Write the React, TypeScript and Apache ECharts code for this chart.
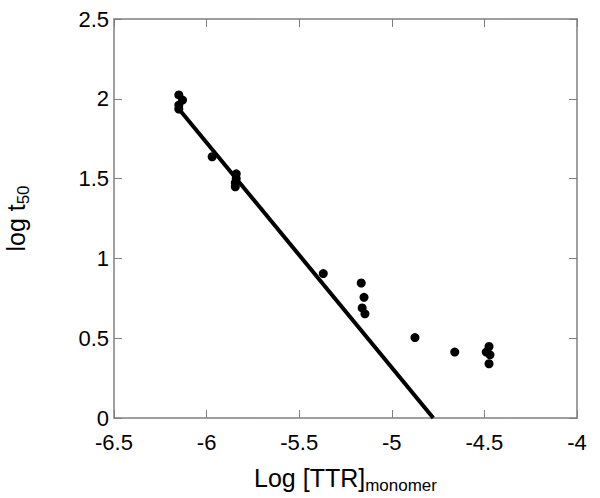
import React, { useEffect, useRef } from "react";
import * as echarts from "echarts";

// Measured points: log [TTR]monomer vs log t50
const pointsX = [-6.15, -6.13, -6.15, -6.15, -5.97, -5.84, -5.84, -5.845, -5.845, -5.37, -5.165, -5.15, -5.16, -5.145, -4.875, -4.66, -4.475, -4.49, -4.47, -4.475];
const pointsY = [2.024, 1.992, 1.961, 1.936, 1.637, 1.53, 1.50, 1.474, 1.449, 0.905, 0.846, 0.756, 0.69, 0.653, 0.504, 0.413, 0.448, 0.413, 0.396, 0.34];

// Fitted line end points
const fitX = [-6.154, -4.776];
const fitY = [1.943, 0];

const xTicks = [-6.5, -6, -5.5, -5, -4.5, -4];
const yTicks = [0, 0.5, 1, 1.5, 2, 2.5];

const FONT = "'Liberation Sans', Arial, sans-serif";
const AXIS_GRAY = "#7f7f7f";

export default function App() {
  const ref = useRef<HTMLDivElement>(null);
  useEffect(() => {
    if (!ref.current) return;
    const chart = echarts.init(ref.current, null, { renderer: "svg" });
    const axisCommon = {
      axisLine: { show: true, onZero: false, lineStyle: { color: AXIS_GRAY, width: 1.5 } },
      axisTick: { show: true, inside: true, length: 8, lineStyle: { color: AXIS_GRAY, width: 1 } },
      splitLine: { show: false },
    };
    const xMin = xTicks[0];
    const xMax = xTicks[xTicks.length - 1];
    const yMin = yTicks[0];
    const yMax = yTicks[yTicks.length - 1];
    chart.setOption({
      animation: false,
      backgroundColor: "#ffffff",
      grid: {
        left: 114,
        top: 19,
        right: 23,
        bottom: 80,
        containLabel: false,
        outerBoundsMode: "none",
      },
      xAxis: [
        {
          type: "value",
          min: xMin,
          max: xMax,
          interval: 0.5,
          position: "bottom",
          ...axisCommon,
          axisLabel: {
            color: "#000",
            fontFamily: FONT,
            fontSize: 22,
            margin: 13,
            formatter: (v: number) => String(v),
          },
          name: "{a|Log [TTR]}{b|monomer}",
          nameLocation: "middle",
          nameGap: 43,
          nameTextStyle: {
            fontFamily: FONT,
            color: "#000",
            rich: {
              a: { fontSize: 25, fontFamily: FONT, color: "#000" },
              b: { fontSize: 17, fontFamily: FONT, color: "#000", padding: [16, 0, 0, 0] },
            },
          },
        },
        {
          type: "value",
          min: xMin,
          max: xMax,
          interval: 0.5,
          position: "top",
          ...axisCommon,
          axisLabel: { show: false },
        },
      ],
      yAxis: [
        {
          type: "value",
          min: yMin,
          max: yMax,
          interval: 0.5,
          position: "left",
          ...axisCommon,
          axisLabel: {
            color: "#000",
            fontFamily: FONT,
            fontSize: 22,
            margin: 5,
            formatter: (v: number) => String(v),
          },
          name: "{a|log t}{b|50}",
          nameLocation: "middle",
          nameGap: 82,
          nameTextStyle: {
            fontFamily: FONT,
            color: "#000",
            rich: {
              a: { fontSize: 25, fontFamily: FONT, color: "#000" },
              b: { fontSize: 17, fontFamily: FONT, color: "#000", padding: [16, 0, 0, 0] },
            },
          },
        },
        {
          type: "value",
          min: yMin,
          max: yMax,
          interval: 0.5,
          position: "right",
          ...axisCommon,
          axisLabel: { show: false },
        },
      ],
      series: [
        {
          type: "line",
          xAxisIndex: 0,
          yAxisIndex: 0,
          data: fitX.map((x, i) => [x, fitY[i]]),
          symbol: "none",
          lineStyle: { color: "#000", width: 4 },
          z: 2,
        },
        {
          type: "scatter",
          xAxisIndex: 0,
          yAxisIndex: 0,
          data: pointsX.map((x, i) => [x, pointsY[i]]),
          symbol: "circle",
          symbolSize: 9,
          itemStyle: { color: "#000", opacity: 1 },
          z: 3,
        },
      ],
    });
    return () => chart.dispose();
  }, []);
  return (
    <div
      ref={ref}
      style={{ position: "fixed", left: 0, top: 0, width: 600, height: 498, background: "#fff" }}
    />
  );
}
